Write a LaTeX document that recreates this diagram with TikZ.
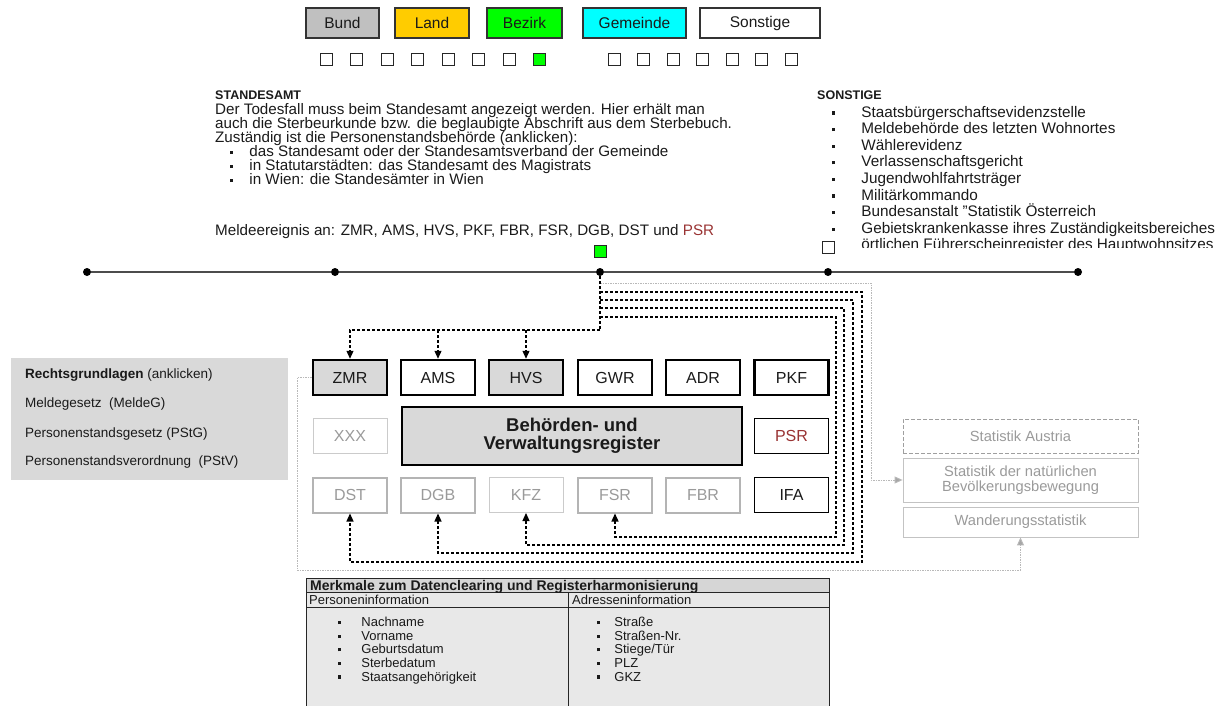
\documentclass[tikz,border=0pt]{standalone}
\usepackage{fontspec}
\setmainfont{Liberation Sans}
\usetikzlibrary{arrows.meta}
\definecolor{bundc}{HTML}{C0C0C0}
\definecolor{landc}{HTML}{FFCC00}
\definecolor{bezirkc}{HTML}{00FF00}
\definecolor{gemc}{HTML}{00FFFF}
\definecolor{boxgrey}{HTML}{D9D9D9}
\definecolor{lightline}{HTML}{B4B4B4}
\definecolor{lighttext}{HTML}{9A9A9A}
\definecolor{psrred}{HTML}{993333}
\definecolor{tabgrey}{HTML}{E8E8E8}
\definecolor{tabhead}{HTML}{D6D6D6}
\definecolor{txtc}{HTML}{1A1A1A}
\newcommand{\fs}[1]{\fontsize{#1}{#1}\selectfont}
\newcommand{\bul}{\raisebox{2.5pt}{\rule{3.2pt}{3.2pt}}}
\tikzset{
  legbox/.style={draw=black!80, line width=1.2pt, minimum height=30pt, inner sep=0pt, font=\fs{15.5}, text=txtc},
  sq/.style={draw=black!85, line width=1pt, minimum size=12pt, inner sep=0pt},
  reg/.style={minimum width=74pt, minimum height=35pt, inner sep=0pt, font=\fs{16}, text=txtc},
  regthick/.style={reg, draw=black, line width=2.5pt},
  regmid/.style={reg, draw=black, line width=1.3pt},
  regfaint/.style={reg, draw=lightline, line width=2pt, text=lighttext},
  regfaintthin/.style={reg, draw=lightline!70, line width=1pt, text=lighttext},
  txt/.style={anchor=base west, inner sep=0pt, font=\fs{15.2}, text=txtc},
  htxt/.style={anchor=base west, inner sep=0pt, font=\fs{12.5}\bfseries, text=txtc},
  stxt/.style={anchor=base west, inner sep=0pt, font=\fs{15.3}, text=txtc},
  ltxt/.style={anchor=base west, inner sep=0pt, font=\fs{13.5}, text=txtc},
  ttxt/.style={anchor=base west, inner sep=0pt, font=\fs{13}, text=txtc},
  flow/.style={draw=black, line width=1.2pt, dash pattern=on 3pt off 2pt},
  tip/.style={-{Triangle[length=8pt,width=7pt]}},
  greyflow/.style={draw=gray!55, line width=0.9pt, dash pattern=on 1.5pt off 1pt},
  greytip/.style={-{Triangle[length=8pt,width=7pt,fill=gray!70]}},
  stat/.style={draw=lightline!80, line width=0.8pt, minimum width=235pt, text=lighttext, font=\fs{14.7}, align=center, inner sep=0pt},
  dot/.style={circle, fill=black, inner sep=0pt, minimum size=8pt}
}
\begin{document}
\begin{tikzpicture}[x=1pt,y=-1pt]
\useasboundingbox (0,0) rectangle (1224,706);
% legend
\node[legbox, fill=bundc, minimum width=73pt] (lbund) at (342.5,23) {Bund};
\node[legbox, fill=landc, minimum width=74pt] (lland) at (432,23) {Land};
\node[legbox, fill=bezirkc, minimum width=75pt] (lbez) at (524.5,23) {Bezirk};
\node[legbox, fill=gemc, minimum width=103pt] (lgem) at (634.5,23) {Gemeinde};
\node[legbox, fill=white, minimum width=120pt] (lson) at (760,23) {Sonstige};
\foreach \i in {0,...,6} \node[sq] (sa\i) at (326+30.5*\i,60) {};
\node[sq, fill=bezirkc] (sa7) at (539.5,60) {};
\foreach \i in {0,...,6} \node[sq] (sb\i) at (614+29.5*\i,60) {};
% Standesamt text
\node[htxt] (st0) at (215,100) {STANDESAMT};
\node[txt] (st1) at (215,114.5) {Der Todesfall muss beim Standesamt angezeigt werden. Hier erhält man};
\node[txt] (st2) at (215,128.5) {auch die Sterbeurkunde bzw. die beglaubigte Abschrift aus dem Sterbebuch.};
\node[txt] (st3) at (215,142.5) {Zuständig ist die Personenstandsbehörde (anklicken):};
\node[txt] (st4) at (230,156.5) {\bul\hspace{16pt}das Standesamt oder der Standesamtsverband der Gemeinde};
\node[txt] (st5) at (230,170.5) {\bul\hspace{16pt}in Statutarstädten: das Standesamt des Magistrats};
\node[txt] (st6) at (230,184.5) {\bul\hspace{16pt}in Wien: die Standesämter in Wien};
\node[txt] (st7) at (215,235) {Meldeereignis an: ZMR, AMS, HVS, PKF, FBR, FSR, DGB, DST und \textcolor{psrred}{PSR}};
% Sonstige text
\begin{scope}
\clip (800,80) rectangle (1224,247);
\node[htxt] (so0) at (817,100) {SONSTIGE};
\foreach \t [count=\k] in {Staatsbürgerschaftsevidenzstelle, Meldebehörde des letzten Wohnortes, Wählerevidenz, Verlassenschaftsgericht, Jugendwohlfahrtsträger, Militärkommando, Bundesanstalt "Statistik Österreich, Gebietskrankenkasse ihres Zuständigkeitsbereiches, örtlichen Führerscheinregister des Hauptwohnsitzes}
  \node[stxt] (so\k) at (832,100.5+16.6*\k) {\bul\hspace{26pt}\t};
\end{scope}
% timeline
\node[dot] (d1) at (87,272) {};
\node[dot] (d2) at (335,272) {};
\node[dot] (d3) at (600,272) {};
\node[dot] (d4) at (828,272) {};
\node[dot] (d5) at (1078,272) {};
\draw[black!70, line width=2pt] (d1) -- (d2) -- (d3) -- (d4) -- (d5);
\node[sq, fill=bezirkc] (gsq) at (600,251) {};
\node[sq, fill=white] (wsq) at (828,247) {};
% left grey box
\fill[boxgrey] (11,358) rectangle (288,480);
\node[ltxt] (r0) at (25,378) {\textbf{Rechtsgrundlagen} (anklicken)};
\node[ltxt] (r1) at (25,407) {Meldegesetz\ \ (MeldeG)};
\node[ltxt] (r2) at (25,437) {Personenstandsgesetz (PStG)};
\node[ltxt] (r3) at (25,465) {Personenstandsverordnung\ \ (PStV)};
% registers
\node[regthick, fill=boxgrey] (zmr) at (350,377.5) {ZMR};
\node[regthick] (ams) at (438,377.5) {AMS};
\node[regthick, fill=boxgrey] (hvs) at (526,377.5) {HVS};
\node[regmid] (gwr) at (615,377.5) {GWR};
\node[regmid] (adr) at (703,377.5) {ADR};
\node[regthick] (pkf) at (791.5,377.5) {PKF};
\node[regfaintthin] (xxx) at (350,436) {XXX};
\node[draw=black, line width=2.5pt, fill=boxgrey, minimum width=340pt, minimum height=58pt, inner sep=0pt, align=center, font=\fs{18.5}\bfseries, text=txtc] (beh) at (572,436) {Behörden- und\\Verwaltungsregister};
\node[regmid, text=psrred] (psr) at (791.5,436) {PSR};
\node[regfaint] (dst) at (350,495) {DST};
\node[regfaint] (dgb) at (438,495) {DGB};
\node[regfaintthin] (kfz) at (526,495) {KFZ};
\node[regfaint] (fsr) at (615,495) {FSR};
\node[regfaint] (fbr) at (703,495) {FBR};
\node[regmid] (ifa) at (791.5,495) {IFA};
% statistics
\node[stat, draw=gray!75, dash pattern=on 4pt off 2pt, minimum height=34pt] (sa) at (1020.5,436) {Statistik Austria};
\node[stat, minimum height=44pt] (natur) at (1020.5,480) {Statistik der natürlichen\\Bevölkerungsbewegung};
\node[stat, minimum height=30pt] (wander) at (1020.5,522) {Wanderungsstatistik};
% connectors
\coordinate (j0) at (600,330);
\coordinate (g0) at (600,283);
\coordinate (g1) at (871,480);
\coordinate (l1) at (297,570);
\coordinate (b1) at (600,292); \coordinate (c1) at (862,562);
\coordinate (b2) at (600,300); \coordinate (c2) at (853,553);
\coordinate (b3) at (600,308); \coordinate (c3) at (844,545);
\coordinate (b4) at (600,317); \coordinate (c4) at (836,537);
\draw[greyflow, greytip] (g0) -| (g1) -- (natur.west);
\draw[greyflow, greytip] (zmr.west) -| (l1) -| (wander.south);
\draw[flow, line width=2pt] (d3.south) -- (j0);
\draw[flow, tip] (j0) -| (zmr.north);
\draw[flow, tip] (ams.north |- j0) -- (ams.north);
\draw[flow, tip] (hvs.north |- j0) -- (hvs.north);
\draw[flow, tip] (b1) -| (c1) -| (dst.south);
\draw[flow, tip] (b2) -| (c2) -| (dgb.south);
\draw[flow, tip] (b3) -| (c3) -| (kfz.south);
\draw[flow, tip] (b4) -| (c4) -| (fsr.south);
% table
\fill[tabgrey] (306,578) rectangle (829,706);
\fill[tabhead] (306,578) rectangle (829,592);
\draw[black!85, line width=1pt] (306,706) -- (306,578) -- (829,578) -- (829,706);
\draw[black!85, line width=1pt] (306,592) -- (829,592);
\draw[black!85, line width=1pt] (306,607) -- (829,607);
\draw[black!85, line width=1pt] (568,592) -- (568,706);
\node[ttxt, font=\fs{14}\bfseries] (th) at (310,590) {Merkmale zum Datenclearing und Registerharmonisierung};
\node[ttxt] (tp) at (309,604.5) {Personeninformation};
\node[ttxt] (ta) at (572,604.5) {Adresseninformation};
\foreach \t [count=\k] in {Nachname, Vorname, Geburtsdatum, Sterbedatum, Staatsangehörigkeit}
  \node[ttxt] (tl\k) at (338,613+13.6*\k) {\bul\hspace{20pt}\t};
\foreach \t [count=\k] in {Straße, Straßen-Nr., Stiege/Tür, PLZ, GKZ}
  \node[ttxt] (tr\k) at (597,613+13.6*\k) {\bul\hspace{14pt}\t};
\end{tikzpicture}
\end{document}
